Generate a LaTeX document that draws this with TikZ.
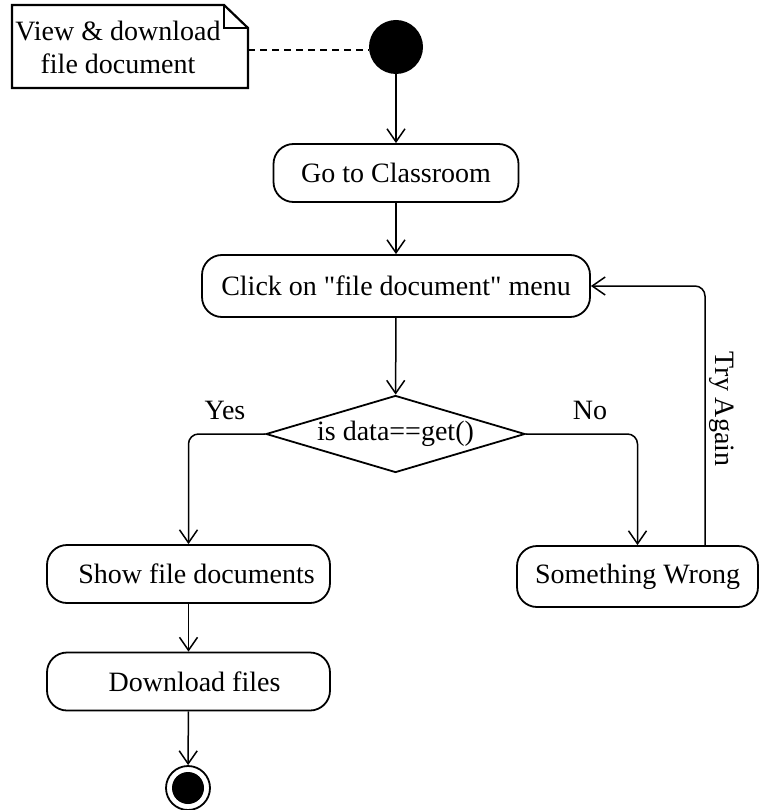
\documentclass[tikz,border=0pt]{standalone}
\usepackage{fontspec}
\setmainfont{Liberation Serif}
\newfontfamily\qfont{Liberation Serif}[Ligatures=TeXOff]
\usetikzlibrary{shapes.geometric,arrows.meta}
\begin{document}
\begin{tikzpicture}[x=1pt,y=-1pt,
  every node/.style={font=\fontsize{28}{33}\selectfont, text=black},
  act/.style={draw, line width=1.8pt, rounded corners=20pt, inner sep=0pt, align=center},
  cond/.style={draw, diamond, line width=1.8pt, inner sep=0pt, aspect=3.36},
  flow/.style={line width=1.5pt, -{Straight Barb[length=13pt,width=18pt,line width=1.5pt]}, rounded corners=10pt},
  lbl/.style={inner sep=0pt}
]
\useasboundingbox (0,0) rectangle (759,810);
% note
\node[lbl, align=center] (note) at (118,47) {View \& download\\file document};
\draw[line width=2.2pt] (12,5) -- (224,5) -- (248,28) -- (248,88) -- (12,88) -- cycle;
\draw[line width=1.6pt] (224,5) -- (224,28) -- (248,28);
\coordinate (noteR) at (248,50);
% start
\node[circle, fill=black, minimum size=54pt, inner sep=0pt] (start) at (396,47) {};
\draw[line width=1.8pt, dash pattern=on 7pt off 5pt] (noteR) -- (start.west |- noteR);
% activities
\node[act, minimum width=245pt, minimum height=58pt] (go) at (396,173) {Go to Classroom};
\node[act, minimum width=388pt, minimum height=62pt] (click) at (396,286) {\qfont Click on "file document" menu};
\node[cond, minimum width=259pt, minimum height=77pt] (dec) at (395.5,434) {is data==get()};
\node[act, minimum width=283pt, minimum height=58pt] (show) at (188.5,574) {\hspace*{16pt}Show file documents};
\node[act, minimum width=283pt, minimum height=58pt] (down) at (188.5,681.5) {\hspace*{12pt}Download files};
\node[act, minimum width=241pt, minimum height=61pt] (wrong) at (637.5,576.5) {Something Wrong};
% end
\node[circle, draw, line width=1.8pt, minimum size=44pt, inner sep=0pt] (end) at (188,788) {};
\node[circle, fill=black, minimum size=32pt, inner sep=0pt] (endin) at (188,788) {};
% labels
\node[lbl] (yes) at (225,410) {Yes};
\node[lbl] (no) at (590,410) {No};
\node[lbl, rotate=-90] (try) at (722,409) {Try Again};
% flows
\draw[flow] (start) -- (go);
\draw[flow] (go) -- (click);
\draw[flow] (click) -- (dec);
\draw[flow] (dec.west) -| (show.north);
\draw[flow] (dec.east) -| (wrong.north);
\draw[flow] (show) -- (down);
\draw[flow] (down) -- (end);
\coordinate (tryB) at (705,546);
\draw[flow] (wrong.north -| tryB) |- (click.east);
\end{tikzpicture}
\end{document}
